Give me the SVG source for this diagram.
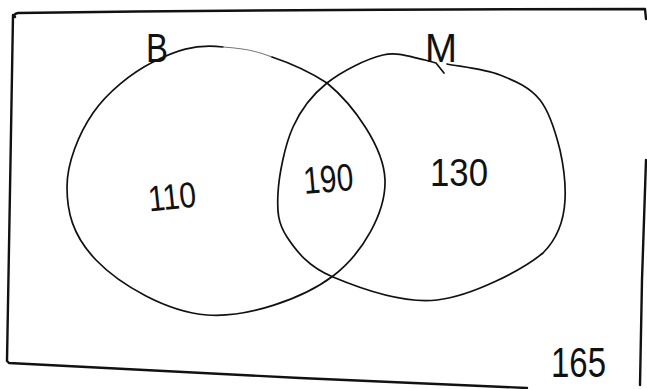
<svg xmlns="http://www.w3.org/2000/svg" width="647" height="389" viewBox="0 0 647 389">
<style>
.ln{fill:none;stroke:#111;stroke-width:1.7;stroke-linecap:round;stroke-linejoin:round}
.fa{fill:none;stroke:#777;stroke-width:1.1;stroke-linecap:round}
.bd{fill:none;stroke:#111;stroke-width:2.4;stroke-linecap:round;stroke-linejoin:round}
.t{font-family:"Liberation Sans",Arial,sans-serif;fill:#111}
</style>
<rect width="647" height="389" fill="#fff"/>
<g id="universe">
<path class="bd" d="M15,17 Q13,14 18,13 Q330,9 645,9 L646,19"/>
<path class="bd" d="M13,15 L10,190 L7,361 L9,363 L300,378 L527,388"/>
<path class="bd" d="M646,160 L642,280 L640,385"/>
<text class="t" x="551" y="377" font-size="42" textLength="55" lengthAdjust="spacingAndGlyphs">165</text>
</g>
<g id="setB">
<path class="ln" d="M153,62 C174.7,51 194,43.5 223,47"/>
<path class="fa" d="M223,47 C240,48 258,51 272,57"/>
<path class="ln" d="M272,57 C290,63 310,72 327,83 C354,105.2 384,147.8 385,180 C386,212.2 362.7,253.5 333,276 C303.3,298.5 247,318.2 207,315 C167,311.8 120,285 96,260 C72,235 67,211 67,187 C67,163 78.7,133.8 93,113 C107.3,92.2 131.3,73 153,62"/>
<text class="t" x="146" y="62" font-size="40" textLength="22" lengthAdjust="spacingAndGlyphs">B</text>
<text class="t" x="148" y="209" font-size="36" textLength="48" lengthAdjust="spacingAndGlyphs" transform="rotate(-6 172 196)">110</text>
</g>
<g id="setM">
<path class="ln" d="M327,83 C342,71 366.7,58.8 383,55 C399.3,51.2 414.3,58.5 425,60 L436,63 L444,73"/>
<path class="ln" d="M447,64 C459.5,66.5 484.5,69 500,75 C515.5,81 530,87.5 540,100 C550,112.5 556,134 560,150 C564,168 566,182 565,200 C564,220 558,238 543,253 C521.7,270.5 472,296 437,300 C402,304 358,287.5 333,277 C308,266.5 296.2,251 287,237 C277.8,223 277,211.3 278,193 C279,174.7 284.8,145.3 293,127 C301.2,108.7 312,95 327,83"/>
<text class="t" x="425" y="62" font-size="40" textLength="32" lengthAdjust="spacingAndGlyphs">M</text>
<text class="t" x="430" y="186" font-size="38" textLength="58" lengthAdjust="spacingAndGlyphs">130</text>
</g>
<g id="intersection">
<text class="t" x="303" y="192" font-size="38" textLength="50" lengthAdjust="spacingAndGlyphs" transform="rotate(-5 328 176)">190</text>
</g>
<g id="connectors"/>
</svg>
